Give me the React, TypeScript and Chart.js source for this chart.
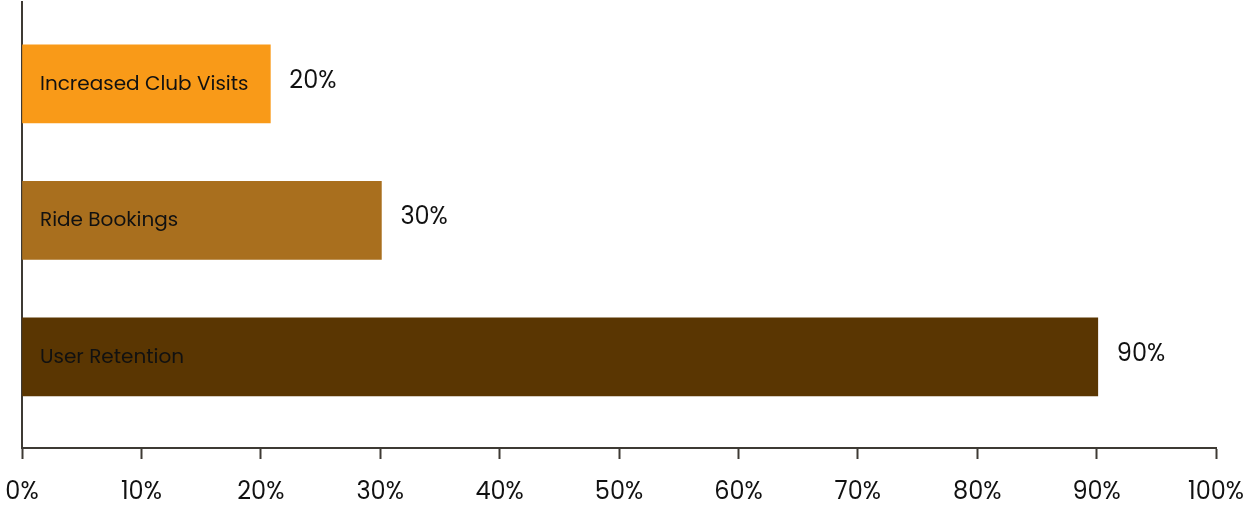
import React, { useEffect, useRef } from "react";
import { Chart, registerables } from "chart.js";

Chart.register(...registerables);

const categories = ["Increased Club Visits", "Ride Bookings", "User Retention"];
const values = [20.8, 30.1, 90.1];
const valueLabels = ["20%", "30%", "90%"];
const barColors = ["#F99A18", "#A96F1E", "#5A3602"];
const xTicks = [0, 10, 20, 30, 40, 50, 60, 70, 80, 90, 100];

const FONT = "Poppins, 'Open Sans', Inter, sans-serif";
const AXIS = "#3E3A34";

const barLabelPlugin = {
  id: "barLabels",
  afterDatasetsDraw(chart: any) {
    const ctx = chart.ctx;
    const meta = chart.getDatasetMeta(0);
    const left = chart.chartArea.left;
    ctx.save();
    ctx.textBaseline = "middle";
    meta.data.forEach((bar: any, i: number) => {
      ctx.fillStyle = "#111111";
      ctx.textAlign = "left";
      ctx.font = `20px ${FONT}`;
      ctx.fillText(categories[i], left + 18, bar.y + 1);
      ctx.font = `24px ${FONT}`;
      ctx.fillText(valueLabels[i], bar.x + 19, bar.y - 2);
    });
    ctx.restore();
  },
};

export default function App() {
  const ref = useRef<HTMLCanvasElement | null>(null);
  useEffect(() => {
    document.body.style.margin = "0";
    const chart = new Chart(ref.current as HTMLCanvasElement, {
      type: "bar",
      data: {
        datasets: [
          {
            data: values.map((v, i) => ({ x: v, y: i })),
            backgroundColor: barColors,
            borderWidth: 0,
            barThickness: 78,
          },
        ],
      },
      options: {
        indexAxis: "y",
        animation: false,
        responsive: false,
        layout: { padding: { left: 22, right: 35, top: 2, bottom: 1 } },
        plugins: { legend: { display: false }, tooltip: { enabled: false } },
        scales: {
          x: {
            type: "linear",
            min: 0,
            max: 100,
            afterBuildTicks: (axis: any) => {
              axis.ticks = xTicks.map((v) => ({ value: v }));
            },
            afterFit: (axis: any) => {
              axis.height = 56;
              axis.paddingLeft = 0;
              axis.paddingRight = 0;
            },
            grid: {
              drawOnChartArea: false,
              drawTicks: true,
              tickLength: 11,
              tickWidth: 2,
              color: AXIS,
            },
            border: { display: true, color: AXIS, width: 2 },
            ticks: {
              padding: 20,
              color: "#111111",
              font: { family: FONT, size: 24 },
              callback: (v: any) => `${v}%`,
            },
          },
          y: {
            type: "linear",
            reverse: true,
            offset: false,
            min: -0.6,
            max: 2.667,
            afterFit: (axis: any) => {
              axis.width = 0;
              axis.paddingTop = 0;
              axis.paddingBottom = 0;
            },
            grid: { display: false, drawTicks: false },
            border: { display: true, color: AXIS, width: 2 },
            ticks: { display: false },
          },
        },
      },
      plugins: [barLabelPlugin],
    } as any);
    return () => chart.destroy();
  }, []);
  return <canvas ref={ref} width={1251} height={505} style={{ display: "block" }} />;
}
